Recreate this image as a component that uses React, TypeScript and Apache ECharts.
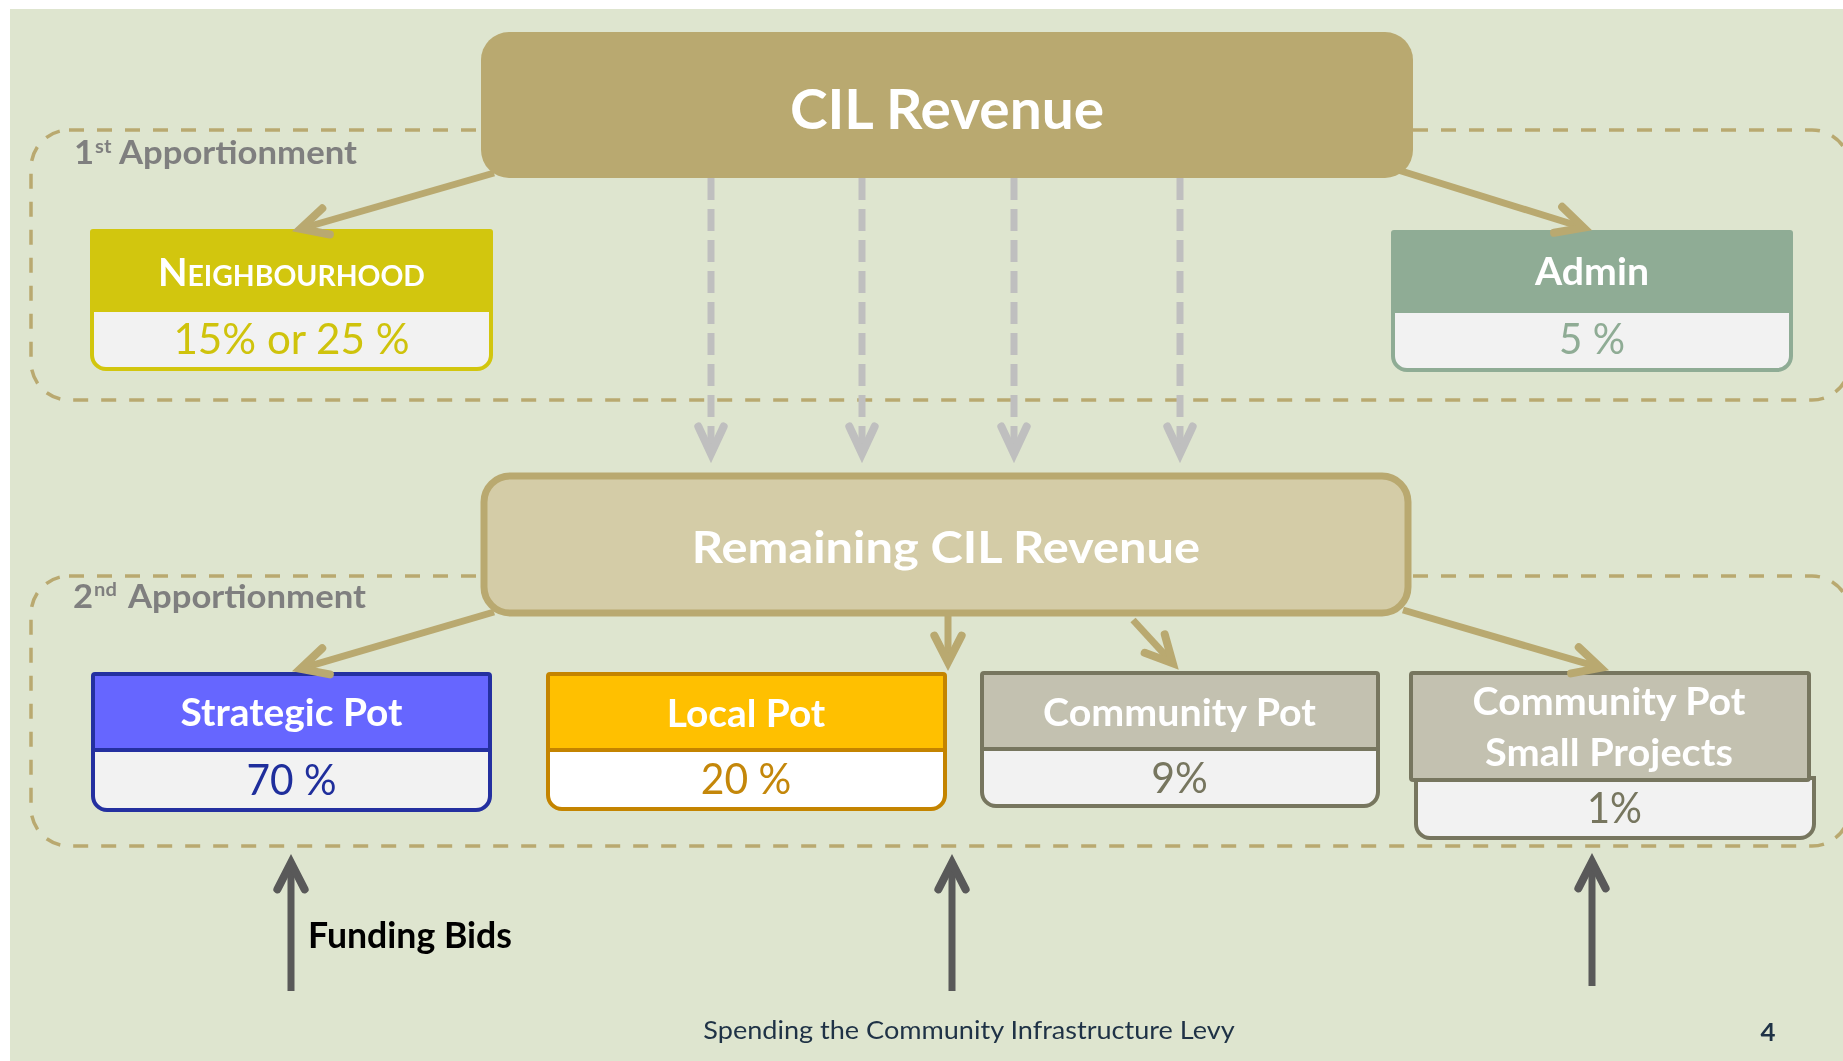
import React, { useEffect, useRef } from 'react';
import * as echarts from 'echarts';

const W = 1843;
const H = 1061;
const FAMILY = 'Lato';
const CAP = 0.7165; // Lato cap height / em

// ---- content / values ----
const sourceTitle = 'CIL Revenue';
const remainingTitle = 'Remaining CIL Revenue';
const stageOrdinals = ['1', '2'];
const stageSuffixes = ['st', 'nd'];
const stageWord = 'Apportionment';
const firstPotNames = ['NEIGHBOURHOOD', 'Admin'];
const firstPotShares = ['15% or 25 %', '5 %'];
const secondPotNames = ['Strategic Pot', 'Local Pot', 'Community Pot', 'Community Pot|Small Projects'];
const secondPotShares = ['70 %', '20 %', '9%', '1%'];
const bidLabel = 'Funding Bids';
const footerText = 'Spending the Community Infrastructure Levy';
const pageNumber = '4';

// ---- colours ----
const BG = '#DEE5CF';
const TAN = '#B9A970';
const TAN_LIGHT = '#D4CCA7';
const GREY_ARROW = '#BFBFBF';
const DARK_ARROW = '#595959';
const LABEL_GREY = '#7F7F7F';
const BODY = '#F2F2F2';

let ctx: CanvasRenderingContext2D | null = null;
function measure(text: string, weight: string, size = 100) {
  if (!ctx) ctx = document.createElement('canvas').getContext('2d');
  ctx!.font = `${weight} ${size}px ${FAMILY}`;
  return ctx!.measureText(text).width;
}

function txt(text: string, x: number, y: number, size: number, color: string, weight = 'normal', align = 'center', scaleX = 1) {
  return {
    type: 'text',
    x,
    y,
    scaleX,
    z: 20,
    silent: true,
    style: {
      text,
      fill: color,
      fontSize: size,
      fontFamily: FAMILY,
      fontWeight: weight,
      align,
      verticalAlign: 'middle',
      textAlign: align,
      textVerticalAlign: 'middle',
    },
  };
}

// text sized by its cap height, then squeezed horizontally to the measured width
function capText(text: string, x: number, y: number, capH: number, width: number, color: string, weight = 'normal', align = 'center') {
  const size = capH / CAP;
  const sx = width / measure(text, weight, size);
  return txt(text, x, y, size, color, weight, align, sx);
}

function arrow(
  x1: number, y1: number, tx: number, ty: number, color: string, width: number,
  opts: { dash?: number[]; head?: number; angle?: number } = {}
) {
  const head = opts.head ?? 30;
  const a = ((opts.angle ?? 27) * Math.PI) / 180;
  const len = Math.hypot(tx - x1, ty - y1);
  const ux = (tx - x1) / len;
  const uy = (ty - y1) / len;
  const back = width / 2 / Math.sin(a);
  const gx = tx - ux * back;
  const gy = ty - uy * back;
  const ang = Math.atan2(-uy, -ux);
  const p1 = [gx + head * Math.cos(ang + a), gy + head * Math.sin(ang + a)];
  const p2 = [gx + head * Math.cos(ang - a), gy + head * Math.sin(ang - a)];
  return [
    {
      type: 'line',
      z: 5,
      silent: true,
      shape: { x1, y1, x2: gx - ux * 4, y2: gy - uy * 4 },
      style: { stroke: color, lineWidth: width, lineDash: opts.dash ?? null, lineCap: 'butt' },
    },
    {
      type: 'polyline',
      z: 5,
      silent: true,
      shape: { points: [p1, [gx, gy], p2] },
      style: { stroke: color, lineWidth: width + 1, lineCap: 'round', lineJoin: 'miter', miterLimit: 10, fill: null },
    },
  ];
}

function buildOption() {
  const els: any[] = [];

  els.push({ type: 'rect', z: 0, silent: true, shape: { x: 10, y: 9, width: W - 10, height: H - 9 }, style: { fill: BG } });

  // apportionment regions
  const regions = [
    { y: 130, h: 270 },
    { y: 576, h: 270 },
  ];
  regions.forEach((r) => {
    els.push({
      type: 'rect', z: 1, silent: true,
      shape: { x: 31, y: r.y, width: 1850 - 31, height: r.h, r: 38 },
      style: { fill: null, stroke: TAN, lineWidth: 3.5, lineDash: [15, 13] },
    });
  });

  // stage labels
  const wordCap = 23;
  const wordSize = wordCap / CAP;
  const wordSx = 238 / measure(stageWord, 'bold', wordSize);
  const supSize = wordSize * 0.58;
  const labelLayout = [
    { numX: 74, wordX: 119, y: 152, supY: 145.5 },
    { numX: 73, wordX: 128, y: 595.5, supY: 589 },
  ];
  labelLayout.forEach((l, i) => {
    const supX = l.numX + measure(stageOrdinals[i], 'bold', wordSize) * wordSx + 1;
    els.push(txt(stageOrdinals[i], l.numX, l.y, wordSize, LABEL_GREY, 'bold', 'left', wordSx));
    els.push(txt(stageSuffixes[i], supX, l.supY, supSize, LABEL_GREY, 'bold', 'left', wordSx));
    els.push(txt(stageWord, l.wordX, l.y, wordSize, LABEL_GREY, 'bold', 'left', wordSx));
  });

  // ---- first stage pots ----
  const firstBoxes = [
    { x: 90, y: 229, w: 403, head: 81, body: 61, color: '#D2C60E', text: '#CFC30C', cx: 291.5, pw: 237 },
    { x: 1391, y: 230, w: 402, head: 81, body: 61, color: '#8FAC95', text: '#8FAC95', cx: 1592, pw: 66 },
  ];
  const bw1 = 4;
  firstBoxes.forEach((b, i) => {
    els.push({
      type: 'rect', z: 3, silent: true,
      shape: { x: b.x + bw1 / 2, y: b.y + b.head, width: b.w - bw1, height: b.body - bw1 / 2, r: [0, 0, 14, 14] },
      style: { fill: BODY, stroke: b.color, lineWidth: bw1 },
    });
    els.push({
      type: 'rect', z: 4, silent: true,
      shape: { x: b.x, y: b.y, width: b.w, height: b.head, r: [3, 3, 0, 0] },
      style: { fill: b.color },
    });
    els.push(capText(firstPotShares[i], b.cx, 337.5, 31, b.pw, b.text, 'normal'));
  });

  // Neighbourhood in small caps
  const bigSize = 27 / CAP;
  const smallSize = 20 / CAP;
  const first = firstPotNames[0].slice(0, 1);
  const rest = firstPotNames[0].slice(1);
  const wN = measure(first, 'bold', bigSize);
  const wRest = measure(rest, 'bold', smallSize);
  const nSx = 267 / (wN + wRest);
  els.push(txt(first, 158, 271.5, bigSize, '#FFFFFF', 'bold', 'left', nSx));
  els.push(txt(rest, 158 + wN * nSx, 275, smallSize, '#FFFFFF', 'bold', 'left', nSx));

  els.push(capText(firstPotNames[1], 1592, 270.5, 27, 114, '#FFFFFF', 'bold'));

  // ---- second stage pots ----
  const bw2 = 4;
  const pots = [
    { x: 91, y: 672, w: 401, head: 76, bx: 91, bw: 401, body: 64, headFill: '#6666FF', bodyFill: BODY, border: '#2430A0', text: '#1F2E9C', cx: 291.5, bcx: 291.5, hy: [711.5], hw: [222], py: 779, pw: 90 },
    { x: 546, y: 672, w: 401, head: 76, bx: 546, bw: 401, body: 63, headFill: '#FFC000', bodyFill: '#FFFFFF', border: '#C48400', text: '#C4870A', cx: 746, bcx: 746, hy: [712], hw: [158.5], py: 778, pw: 90.6 },
    { x: 980, y: 671, w: 400, head: 76, bx: 980, bw: 400, body: 61, headFill: '#C3C1B0', bodyFill: BODY, border: '#77765F', text: '#77765F', cx: 1179.5, bcx: 1179.5, hy: [711], hw: [274], py: 777, pw: 56.5 },
    { x: 1409, y: 671, w: 402, head: 107, bx: 1414, bw: 402, body: 62, headFill: '#C3C1B0', bodyFill: BODY, border: '#77765F', text: '#77765F', cx: 1609, bcx: 1614.5, hy: [700, 750.5], hw: [274, 248], py: 807, pw: 55 },
  ];
  pots.forEach((p, i) => {
    els.push({
      type: 'rect', z: 3, silent: true,
      shape: { x: p.bx + bw2 / 2, y: p.y + p.head, width: p.bw - bw2, height: p.body - bw2 / 2, r: [0, 0, 14, 14] },
      style: { fill: p.bodyFill, stroke: p.border, lineWidth: bw2 },
    });
    els.push({
      type: 'rect', z: 4, silent: true,
      shape: { x: p.x + bw2 / 2, y: p.y + bw2 / 2, width: p.w - bw2, height: p.head, r: 2 },
      style: { fill: p.headFill, stroke: p.border, lineWidth: bw2 },
    });
    const lines = secondPotNames[i].split('|');
    lines.forEach((ln, j) => els.push(capText(ln, p.cx, p.hy[j], 27.5, p.hw[j], '#FFFFFF', 'bold')));
    els.push(capText(secondPotShares[i], p.bcx, p.py, 30, p.pw, p.text, 'normal'));
  });

  // ---- grey dashed transfer arrows ----
  const dashedX = [711, 862, 1014, 1180];
  dashedX.forEach((x) => {
    els.push(...arrow(x, 178, x, 462, GREY_ARROW, 7, { dash: [22, 9], head: 30, angle: 25 }));
  });

  // ---- tan allocation arrows ----
  const tanArrows = [
    [494, 173, 293, 231],
    [1398, 170, 1591, 230],
    [494, 612, 293, 671],
    [948, 615, 948, 670],
    [1133, 620, 1178, 669],
    [1403, 610, 1608, 670],
  ];
  tanArrows.forEach((a) => els.push(...arrow(a[0], a[1], a[2], a[3], TAN, 7, { head: 30, angle: 27 })));

  // ---- funding bid arrows ----
  const bidArrows = [
    [291, 991, 291, 855],
    [952, 991, 952, 855],
    [1592, 986, 1592, 854],
  ];
  bidArrows.forEach((a) => els.push(...arrow(a[0], a[1], a[2], a[3], DARK_ARROW, 7, { head: 30, angle: 27 })));

  // ---- source boxes ----
  els.push({
    type: 'rect', z: 8, silent: true,
    shape: { x: 481, y: 32, width: 932, height: 146, r: 28 },
    style: { fill: TAN },
  });
  els.push(capText(sourceTitle, 947, 107, 40, 316, '#FFFFFF', 'bold'));

  els.push({
    type: 'rect', z: 8, silent: true,
    shape: { x: 484, y: 476, width: 924, height: 137, r: 26 },
    style: { fill: TAN_LIGHT, stroke: TAN, lineWidth: 7 },
  });
  els.push(capText(remainingTitle, 946, 546, 32, 510, '#FFFFFF', 'bold'));

  // ---- bottom labels ----
  els.push(capText(bidLabel, 308, 934.5, 26, 204, '#000000', 'bold', 'left'));
  els.push(capText(footerText, 969, 1029, 18, 532, '#1F3246', 'normal'));
  els.push(capText(pageNumber, 1768, 1031, 18, 15, '#1F3246', 'bold'));

  return {
    animation: false,
    backgroundColor: 'transparent',
    graphic: { elements: els },
  };
}

export default function App() {
  const ref = useRef<HTMLDivElement>(null);
  useEffect(() => {
    if (!ref.current) return;
    const chart = echarts.init(ref.current, null, { renderer: 'svg', width: W, height: H });
    chart.setOption(buildOption());
    return () => chart.dispose();
  }, []);
  return <div ref={ref} style={{ position: 'fixed', left: 0, top: 0, width: W, height: H }} />;
}
